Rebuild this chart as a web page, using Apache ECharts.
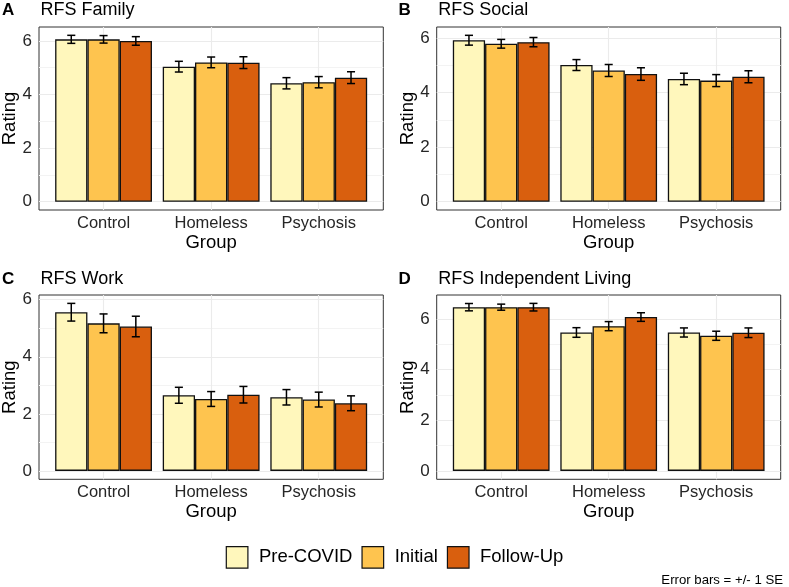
<!DOCTYPE html>
<html><head><meta charset="utf-8">
<script src="https://cdn.jsdelivr.net/npm/echarts@6/dist/echarts.min.js"></script>
<style>html,body{margin:0;padding:0;background:#fff}#c{width:789px;height:587px}</style>
</head><body><div id="c"></div>
<script>
// ---------- data ----------
const categories = ['Control', 'Homeless', 'Psychosis'];
const seriesNames = ['Pre-COVID', 'Initial', 'Follow-Up'];
const panelTags = ['A', 'B', 'C', 'D'];
const panelTitles = ['RFS Family', 'RFS Social', 'RFS Work', 'RFS Independent Living'];
const yTickValues = [0, 2, 4, 6];
const yMinorValues = [1, 3, 5];

const familyPreCovid = [6.06, 5.04, 4.42];
const familyInitial = [6.06, 5.20, 4.46];
const familyFollowUp = [6.00, 5.19, 4.63];
const familyPreCovidSE = [0.15, 0.20, 0.21];
const familyInitialSE = [0.14, 0.20, 0.21];
const familyFollowUpSE = [0.16, 0.22, 0.22];

const socialPreCovid = [5.92, 5.01, 4.50];
const socialInitial = [5.79, 4.81, 4.44];
const socialFollowUp = [5.85, 4.68, 4.58];
const socialPreCovidSE = [0.18, 0.20, 0.21];
const socialInitialSE = [0.16, 0.22, 0.22];
const socialFollowUpSE = [0.17, 0.23, 0.22];

const workPreCovid = [5.56, 2.65, 2.58];
const workInitial = [5.17, 2.52, 2.50];
const workFollowUp = [5.06, 2.67, 2.37];
const workPreCovidSE = [0.31, 0.28, 0.27];
const workInitialSE = [0.33, 0.26, 0.26];
const workFollowUpSE = [0.36, 0.29, 0.26];

const livingPreCovid = [6.47, 5.47, 5.47];
const livingInitial = [6.47, 5.72, 5.34];
const livingFollowUp = [6.47, 6.08, 5.46];
const livingPreCovidSE = [0.145, 0.19, 0.18];
const livingInitialSE = [0.12, 0.18, 0.18];
const livingFollowUpSE = [0.15, 0.17, 0.19];

// ---------- assembly ----------
const panelMeans = [
  [familyPreCovid, familyInitial, familyFollowUp],
  [socialPreCovid, socialInitial, socialFollowUp],
  [workPreCovid, workInitial, workFollowUp],
  [livingPreCovid, livingInitial, livingFollowUp]
];
const panelSE = [
  [familyPreCovidSE, familyInitialSE, familyFollowUpSE],
  [socialPreCovidSE, socialInitialSE, socialFollowUpSE],
  [workPreCovidSE, workInitialSE, workFollowUpSE],
  [livingPreCovidSE, livingInitialSE, livingFollowUpSE]
];

// ---------- layout / style ----------
const FONT = '"Liberation Sans", Arial, Helvetica, sans-serif';
const colors = ['#FFF7BC', '#FEC44F', '#D95F0E'];
const boxes = [
  {left: 39, top: 27, width: 344.3, height: 183},
  {left: 436.7, top: 27, width: 344, height: 183},
  {left: 39, top: 295, width: 344.3, height: 184.3},
  {left: 436.7, top: 295, width: 344, height: 184.3}
];
const barSlot = 0.9 / 3;
const capHalf = 0.0375;

function yLimits(p) {
  let mx = 0;
  panelMeans[p].forEach((arr, k) => arr.forEach((v, j) => { mx = Math.max(mx, v + panelSE[p][k][j]); }));
  return [-0.05 * mx, 1.05 * mx];
}

const grid = [], xAxis = [], yAxis = [], series = [], graphic = [];

boxes.forEach((b, p) => {
  grid.push({left: b.left, top: b.top, width: b.width, height: b.height, show: true,
    backgroundColor: '#fff', borderColor: '#333', borderWidth: 1, containLabel: false});
  xAxis.push({gridIndex: p, type: 'value', min: -0.6, max: 2.6,
    axisLine: {show: false}, splitLine: {show: false},
    axisTick: {show: true, customValues: [0, 1, 2], length: 4, lineStyle: {color: '#333', width: 1}},
    axisLabel: {customValues: [0, 1, 2], formatter: v => categories[Math.round(v)] || '',
      fontSize: 16.5, color: '#262626', fontFamily: FONT, margin: 5}});
  const lim = yLimits(p);
  yAxis.push({gridIndex: p, type: 'value', min: lim[0], max: lim[1],
    axisLine: {show: false}, splitLine: {show: false},
    axisTick: {show: true, customValues: yTickValues, length: 4, lineStyle: {color: '#333', width: 1}},
    axisLabel: {customValues: yTickValues, fontSize: 17, color: '#262626', fontFamily: FONT, margin: 7}});

  // gridlines
  const ml = [];
  yMinorValues.forEach(v => ml.push({yAxis: v, lineStyle: {color: '#f3f3f3', width: 1, type: 'solid'}}));
  yTickValues.forEach(v => ml.push({yAxis: v, lineStyle: {color: '#ebebeb', width: 1.1, type: 'solid'}}));
  [0, 1, 2].forEach(v => ml.push({xAxis: v, lineStyle: {color: '#ebebeb', width: 1.1, type: 'solid'}}));
  series.push({type: 'line', xAxisIndex: p, yAxisIndex: p, data: [], silent: true, z: 1,
    markLine: {silent: true, z: 1, symbol: ['none', 'none'], label: {show: false}, animation: false, data: ml}});

  // bars
  seriesNames.forEach((name, k) => {
    series.push({type: 'bar', name: name, xAxisIndex: p, yAxisIndex: p, z: 2,
      barGap: '0%', barCategoryGap: '10%',
      itemStyle: {color: colors[k], borderColor: '#111', borderWidth: 1.3},
      emphasis: {disabled: true},
      data: panelMeans[p][k].map((v, j) => [j, v])});
  });

  // error bars
  const rows = [];
  seriesNames.forEach((name, k) => panelMeans[p][k].forEach((v, j) => rows.push([j, k, v, panelSE[p][k][j]])));
  series.push({type: 'custom', xAxisIndex: p, yAxisIndex: p, z: 5, silent: true,
    encode: {x: 0, y: 2}, data: rows,
    renderItem: function (params, api) {
      const j = api.value(0), k = api.value(1), m = api.value(2), s = api.value(3);
      const cx = j + (k - 1) * barSlot;
      const t = api.coord([cx, m + s]), bt = api.coord([cx, m - s]);
      const l = api.coord([cx - capHalf, m]), r = api.coord([cx + capHalf, m]);
      const st = {stroke: '#000', lineWidth: 1.5};
      return {type: 'group', children: [
        {type: 'line', shape: {x1: t[0], y1: t[1], x2: bt[0], y2: bt[1]}, style: st},
        {type: 'line', shape: {x1: l[0], y1: t[1], x2: r[0], y2: t[1]}, style: st},
        {type: 'line', shape: {x1: l[0], y1: bt[1], x2: r[0], y2: bt[1]}, style: st}
      ]};
    }});

  // titles
  const tagX = p % 2 === 0 ? 2 : 398.5;
  const titleY = p < 2 ? 10.5 : 279.5;
  graphic.push({type: 'text', x: tagX, y: titleY, silent: true,
    style: {text: panelTags[p], font: 'bold 17px ' + FONT, fill: '#000', align: 'left', verticalAlign: 'middle'}});
  graphic.push({type: 'text', x: b.left + 1.5, y: titleY, silent: true,
    style: {text: panelTitles[p], font: '18px ' + FONT, fill: '#000', align: 'left', verticalAlign: 'middle'}});
  // axis titles
  graphic.push({type: 'text', x: b.left - 29, y: b.top + b.height / 2, rotation: Math.PI / 2, silent: true,
    style: {text: 'Rating', font: '18.5px ' + FONT, fill: '#000', align: 'center', verticalAlign: 'middle'}});
  graphic.push({type: 'text', x: b.left + b.width / 2, y: b.top + b.height + 33, silent: true,
    style: {text: 'Group', font: '18.5px ' + FONT, fill: '#000', align: 'center', verticalAlign: 'middle'}});
});

graphic.push({type: 'text', x: 783, y: 580, silent: true,
  style: {text: 'Error bars = +/- 1 SE', font: '13.2px ' + FONT, fill: '#000', align: 'right', verticalAlign: 'middle'}});

const chart = echarts.init(document.getElementById('c'), null, {renderer: 'canvas'});
chart.setOption({
  animation: false,
  backgroundColor: '#fff',
  grid, xAxis, yAxis, series, graphic,
  legend: {data: seriesNames, left: 'center', top: 541, icon: 'rect', itemWidth: 21.6, itemHeight: 21.6,
    itemGap: 9, selectedMode: false,
    itemStyle: {borderColor: '#111', borderWidth: 1.2},
    textStyle: {fontSize: 18.5, color: '#000', fontFamily: FONT, padding: [0, 0, 0, 6]}}
});
</script></body></html>
